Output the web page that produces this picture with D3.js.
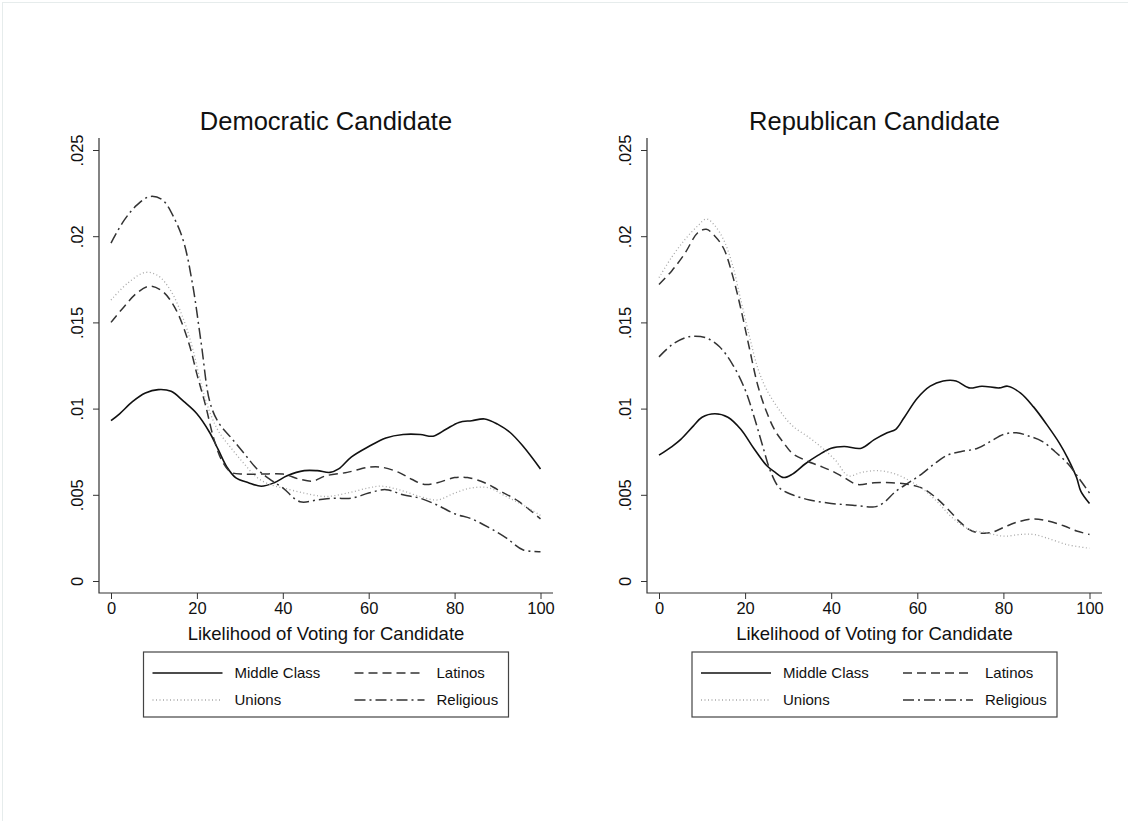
<!DOCTYPE html>
<html>
<head>
<meta charset="utf-8">
<script src="https://cdn.jsdelivr.net/npm/d3@7"></script>
<style>
  body { margin: 0; background: #fff; }
  text { font-family: "Liberation Sans", Arial, Helvetica, sans-serif; fill: #111; }
</style>
</head>
<body>
<div id="chart"></div>
<script>
// kernel density estimates, x = likelihood (0-100)
var demMiddle = [[0,.0093],[2,.0097],[5,.0104],[8,.0109],[11,.0111],[14,.011],[17,.0104],[20,.0097],[23,.0086],[25,.0076],[27,.0066],[29,.006],[32,.0057],[35,.0055],[38,.0057],[41,.0061],[45,.0064],[48,.0064],[51,.0063],[53,.0065],[56,.0072],[60,.0078],[64,.0083],[68,.0085],[72,.0085],[75,.0084],[78,.0088],[81,.0092],[84,.0093],[87,.0094],[90,.0091],[93,.0086],[96,.0078],[100,.0065]]
var demLatinos = [[0,.015],[3,.0159],[6,.0167],[9,.0171],[12,.0168],[15,.0158],[18,.0139],[20,.012],[22,.0102],[24,.0082],[26,.0069],[28,.0063],[31,.0062],[35,.0062],[40,.0062],[44,.0059],[47,.0058],[50,.0061],[55,.0063],[60,.0066],[63,.0066],[67,.0063],[70,.0059],[73,.0056],[76,.0057],[80,.006],[83,.006],[87,.0057],[90,.0053],[95,.0046],[100,.0036]]
var demUnions = [[0,.0163],[4,.0173],[8,.0179],[11,.0177],[14,.0168],[17,.0151],[19,.0135],[21,.0114],[23,.0098],[25,.0087],[28,.0077],[31,.0068],[34,.006],[37,.0056],[40,.0054],[45,.0051],[50,.0049],[55,.0051],[60,.0054],[63,.0055],[67,.0053],[72,.0049],[76,.0047],[80,.0051],[84,.0054],[88,.0054],[92,.0049],[96,.0044],[100,.0038]]
var demReligious = [[0,.0196],[3,.0209],[6,.0218],[9,.0223],[12,.0221],[15,.0209],[17,.0196],[19,.0172],[21,.0138],[23,.0104],[25,.0092],[28,.0083],[31,.0074],[34,.0065],[37,.0059],[40,.0054],[44,.0046],[48,.0047],[52,.0048],[56,.0048],[60,.0051],[64,.0053],[68,.005],[72,.0048],[76,.0044],[80,.0039],[84,.0036],[88,.0031],[92,.0025],[96,.0018],[100,.0017]]

var repMiddle = [[0,.0073],[3,.0078],[5,.0082],[8,.009],[10,.0095],[13,.0097],[16,.0095],[19,.0088],[22,.0077],[25,.0067],[27,.0063],[29,.006],[31,.0062],[34,.0068],[37,.0073],[40,.0077],[43,.0078],[47,.0077],[50,.0082],[53,.0086],[55,.0088],[57,.0095],[60,.0106],[63,.0113],[66,.0116],[69,.0116],[72,.0112],[75,.0113],[79,.0112],[81,.0113],[84,.0109],[87,.0101],[90,.0091],[93,.008],[95,.0071],[97,.006],[98,.0052],[100,.0045]]
var repLatinos = [[0,.0172],[3,.018],[6,.019],[9,.0202],[11,.0204],[13,.02],[15,.0193],[17,.0178],[19,.0158],[21,.0135],[23,.0113],[25,.0098],[27,.0087],[29,.008],[31,.0074],[34,.007],[37,.0067],[40,.0064],[43,.006],[46,.0056],[50,.0057],[54,.0057],[58,.0056],[61,.0054],[64,.0049],[67,.0042],[70,.0034],[72,.003],[74,.0028],[77,.0028],[80,.0031],[83,.0034],[87,.0036],[90,.0035],[94,.0032],[97,.0029],[100,.0027]]
var repUnions = [[0,.0176],[3,.0188],[6,.0198],[9,.0206],[11,.021],[13,.0206],[15,.0198],[17,.0184],[19,.0163],[21,.0142],[23,.0123],[25,.0111],[28,.0099],[31,.009],[35,.0083],[38,.0077],[41,.007],[44,.0061],[47,.0063],[51,.0064],[55,.0062],[59,.0057],[62,.0052],[65,.0045],[68,.0037],[72,.003],[76,.0028],[80,.0026],[84,.0027],[87,.0027],[90,.0025],[95,.0021],[100,.0019]]
var repReligious = [[0,.013],[3,.0137],[6,.0141],[8,.0142],[11,.0141],[14,.0136],[17,.0126],[20,.0111],[22,.0096],[24,.0079],[26,.0063],[28,.0054],[31,.005],[35,.0047],[40,.0045],[45,.0044],[50,.0043],[52,.0045],[55,.0052],[58,.0057],[61,.0062],[64,.0068],[67,.0073],[70,.0075],[74,.0077],[77,.0081],[80,.0085],[83,.0086],[86,.0084],[89,.0081],[92,.0075],[95,.0068],[98,.0058],[100,.0051]]

var seriesNames = ["Middle Class", "Latinos", "Unions", "Religious"]
var panelTitles = ["Democratic Candidate", "Republican Candidate"]
var panelData = [[demMiddle, demLatinos, demUnions, demReligious], [repMiddle, repLatinos, repUnions, repReligious]]
var xTicks = [0, 20, 40, 60, 80, 100]
var yTicks = [0, .005, .01, .015, .02, .025]
var yTickLabels = ["0", ".005", ".01", ".015", ".02", ".025"]

var styles = {
  "Middle Class": {stroke: "#111", width: 1.6, dash: null},
  "Latinos": {stroke: "#333", width: 1.5, dash: "9,5"},
  "Unions": {stroke: "#a8a8a8", width: 1.3, dash: "1,2.5"},
  "Religious": {stroke: "#333", width: 1.5, dash: "11,4,2,4"}
}

var W = 1128, H = 821
var svg = d3.select("#chart").append("svg")
  .attr("width", W).attr("height", H)

svg.append("rect")
  .attr("x", 2.5).attr("y", 2.5).attr("width", W + 10).attr("height", H + 10)
  .attr("fill", "#fff").attr("stroke", "#e6ecec")

var panels = [{left: 99, right: 553}, {left: 647, right: 1102}]
var plotTop = 138, plotBottom = 593

panels.forEach(function(p, pi) {
  var g = svg.append("g")
  var x = d3.scaleLinear().domain([0, 100]).range([p.left + 12, p.right - 12.5])
  var y = d3.scaleLinear().domain([0, .025]).range([plotBottom - 12, plotTop + 12])
  var cx = (p.left + p.right) / 2

  g.append("text")
    .attr("x", cx).attr("y", 130)
    .attr("text-anchor", "middle")
    .style("font-size", "25.5px")
    .text(panelTitles[pi])

  // axes
  var xa = g.append("g")
    .attr("transform", "translate(0," + plotBottom + ")")
    .call(d3.axisBottom(x).tickValues(xTicks).tickSize(6).tickPadding(3).tickFormat(d3.format("d")))
  xa.select(".domain").remove()
  xa.selectAll("text").style("font-size", "16.5px").attr("fill", "#111")
  xa.selectAll("line").attr("stroke", "#333")

  var ya = g.append("g")
    .attr("transform", "translate(" + p.left + ",0)")
    .call(d3.axisLeft(y).tickValues(yTicks).tickSize(6).tickFormat(function(d, i) { return yTickLabels[i] }))
  ya.select(".domain").remove()
  ya.selectAll("line").attr("stroke", "#333")
  ya.selectAll("text")
    .attr("x", null).attr("dy", null)
    .attr("text-anchor", "middle")
    .attr("transform", "translate(-16,0) rotate(-90)")
    .style("font-size", "16.5px").attr("fill", "#111")

  g.append("path")
    .attr("d", "M" + p.left + "," + plotTop + "V" + plotBottom + "H" + p.right)
    .attr("fill", "none").attr("stroke", "#333").attr("stroke-width", 1.2)

  g.append("text")
    .attr("x", cx).attr("y", 640)
    .attr("text-anchor", "middle")
    .style("font-size", "18.5px")
    .text("Likelihood of Voting for Candidate")

  var line = d3.line()
    .x(function(d) { return x(d[0]) })
    .y(function(d) { return y(d[1]) })
    .curve(d3.curveCatmullRom.alpha(0.5))

  panelData[pi].forEach(function(s, si) {
    var st = styles[seriesNames[si]]
    g.append("path")
      .datum(s)
      .attr("d", line)
      .attr("fill", "none")
      .attr("stroke", st.stroke)
      .attr("stroke-width", st.width)
      .attr("stroke-dasharray", st.dash)
  })

  // legend
  var bw = 365, bx = cx - bw / 2, by = 652
  var lg = g.append("g").attr("transform", "translate(" + bx + "," + by + ")")
  lg.append("rect")
    .attr("width", bw).attr("height", 65)
    .attr("fill", "none").attr("stroke", "#444").attr("stroke-width", 1.2)
  var order = ["Middle Class", "Latinos", "Unions", "Religious"]
  order.forEach(function(name, i) {
    var col = i % 2, row = Math.floor(i / 2)
    var ox = col === 0 ? 9 : 211
    var oy = row === 0 ? 21 : 48
    var st = styles[name]
    lg.append("line")
      .attr("x1", ox).attr("x2", ox + 70)
      .attr("y1", oy).attr("y2", oy)
      .attr("stroke", st.stroke).attr("stroke-width", st.width)
      .attr("stroke-dasharray", st.dash)
    lg.append("text")
      .attr("x", ox + 82).attr("y", oy + 5)
      .style("font-size", "15px")
      .text(name)
  })
})
</script>
</body>
</html>
